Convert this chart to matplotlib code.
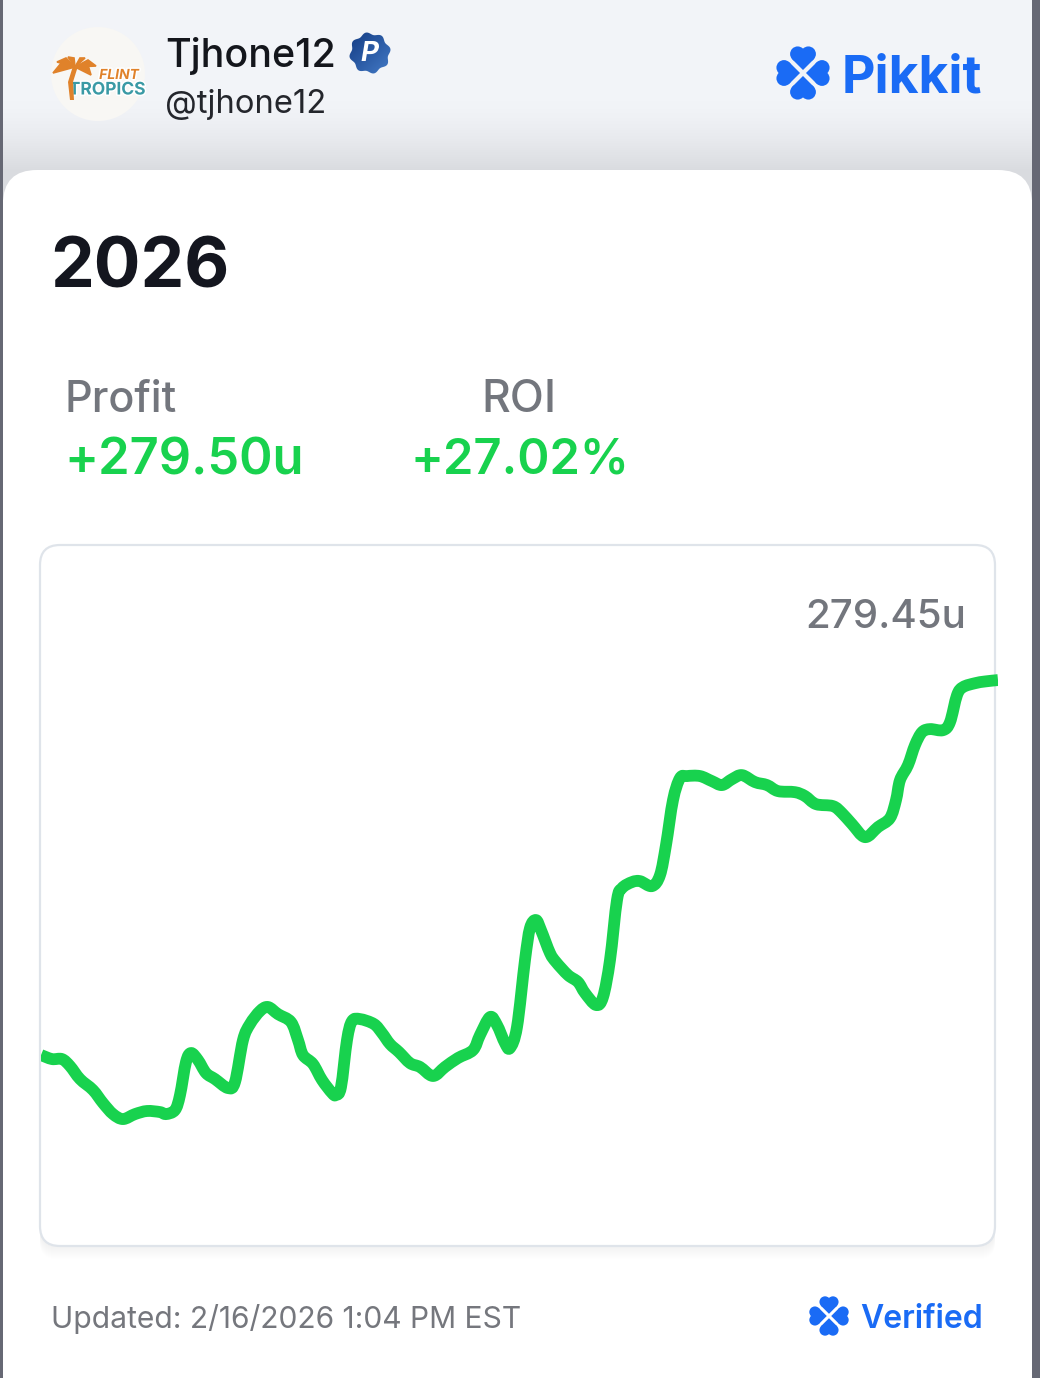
import numpy as np
import matplotlib
matplotlib.use('Agg')
import matplotlib.pyplot as plt
import matplotlib.patheffects as pe
from matplotlib.patches import FancyBboxPatch, PathPatch, Circle, Rectangle, Polygon
from matplotlib.path import Path

plt.rcParams['font.family'] = ['Inter', 'DejaVu Sans']

# running position along the 2026 season and profit in units
progress = [0, 11, 21, 29, 39, 52, 62, 72, 82, 94, 106, 119, 125, 134, 139, 145, 150, 157, 165, 174,
            187, 194, 202, 209, 219, 227, 237, 250, 257, 262, 272, 281, 291, 295, 300, 306, 311, 319,
            333, 341, 349, 358, 369, 379, 392, 404, 417, 432, 439, 449, 456, 464, 469, 476, 484, 489,
            495, 500, 509, 515, 527, 537, 544, 555, 562, 569, 576, 581, 591, 599, 611, 619, 625, 632,
            639, 646, 659, 671, 681, 691, 701, 714, 726, 737, 754, 764, 775, 792, 801, 811, 824, 837,
            849, 855, 859, 867, 874, 881, 889, 902, 909, 916, 922, 934, 944, 957]
profit = [0, -3.0, -3.0, -8.2, -17.9, -26.1, -35.8, -44.0, -47.7, -44.0, -41.7, -42.5, -44.0, -41.0,
          -29.8, -5.2, 1.5, -3.7, -13.4, -17.9, -24.6, -20.1, 11.2, 23.1, 32.8, 35.8, 30.5, 24.6, 11.2,
          0, -6.7, -18.6, -28.3, -29.8, -23.8, 11.2, 25.3, 26.8, 23.1, 16.4, 8.2, 2.2, -6.0, -8.9,
          -15.6, -8.9, -2.2, 3.7, 14.9, 28.3, 22.4, 8.9, 5.2, 20.9, 70.8, 94.6, 100.6, 93.1, 76.0,
          69.3, 59.6, 54.4, 46.2, 37.3, 43.2, 70.8, 115.5, 124.4, 128.9, 129.6, 125.9, 134.1, 156.5,
          190.0, 206.4, 207.9, 207.9, 204.1, 201.2, 205.6, 208.6, 203.4, 201.2, 196.7, 195.9, 193.0,
          187.0, 185.5, 180.3, 172.1, 162.4, 169.9, 176.6, 190.0, 204.9, 216.1, 231.0, 240.6, 242.9,
          242.1, 248.1, 268.2, 274.2, 277.1, 278.4, 279.45]

W, H = 1040, 1378
BLUE = '#1a6bf5'
GREEN = '#18d24e'
GREY = '#73767d'
ORANGE = '#e0822a'
TEAL = '#3a9aa5'


def clover(ax, cx, cy, size, color=BLUE, zorder=6):
    # four hearts, each a square corner plus two round lobes, tips towards the middle
    s = size * 0.56
    g = size * 0.11
    d = s / np.sqrt(2)
    for ang in [0, 90, 180, 270]:
        a = np.radians(ang)
        rot = np.array([[np.cos(a), -np.sin(a)], [np.sin(a), np.cos(a)]])
        square = np.array([[0, -g], [-d, -g - d], [0, -g - 2 * d], [d, -g - d]])
        ax.add_patch(Polygon(square @ rot.T + [cx, cy], fc=color, ec='none', zorder=zorder))
        for side in [-1, 1]:
            c = rot @ np.array([side * d / 2, -g - 1.5 * d]) + [cx, cy]
            ax.add_patch(Circle(c, s / 2, fc=color, ec='none', zorder=zorder))


def smooth_path(x, y):
    # bezier segments that pass through every reading
    x = np.asarray(x, float)
    y = np.asarray(y, float)
    verts = [(x[0], y[0])]
    codes = [Path.MOVETO]
    for i in range(len(x) - 1):
        i0 = max(i - 1, 0)
        i3 = min(i + 2, len(x) - 1)
        verts.append((x[i] + (x[i + 1] - x[i0]) / 6, y[i] + (y[i + 1] - y[i0]) / 6))
        verts.append((x[i + 1] - (x[i3] - x[i]) / 6, y[i + 1] - (y[i3] - y[i]) / 6))
        verts.append((x[i + 1], y[i + 1]))
        codes += [Path.CURVE4] * 3
    return Path(verts, codes)


fig = plt.figure(figsize=(W / 100, H / 100), dpi=100)
bg = fig.add_axes([0, 0, 1, 1])
bg.axis('off')

# page, header gradient and side strips
grad = np.ones((200, 1, 3))
top = np.array([0xf2, 0xf4, 0xf8]) / 255
low = np.array([0xd9, 0xdb, 0xdf]) / 255
for i in range(200):
    f = np.clip((i - 100) / 70, 0, 1) ** 1.5
    grad[i, 0] = top * (1 - f) + low * f
bg.imshow(grad, extent=[0, W, 200, 0], aspect='auto', zorder=0)

# badge gradient, clipped to the scalloped shape
tb = np.linspace(0, 2 * np.pi, 160)
rb = 19.5 + 1.3 * np.cos(8 * tb + np.pi / 2)
badge = Polygon(np.c_[370 + rb * np.cos(tb), 53 + rb * np.sin(tb)], fc='none', ec='none', zorder=4)
bg.add_patch(badge)
yy, xx = np.mgrid[0:1:40j, 0:1:40j]
shade = (xx * 0.5 + yy * 0.5)[..., None]
col = np.array([0x12, 0x3a, 0x82]) / 255 * (1 - shade) + np.array([0x45, 0x7c, 0xc8]) / 255 * shade
im = bg.imshow(col, extent=[348, 392, 75, 31], aspect='auto', zorder=4)
im.set_clip_path(badge)

bg.set_xlim(0, W)
bg.set_ylim(H, 0)
bg.add_patch(Rectangle((0, 0), 3, H, fc='#666874', ec='none', zorder=3))
bg.add_patch(Rectangle((1032, 0), 8, H, fc='#666874', ec='none', zorder=3))

# main white card
bg.add_patch(FancyBboxPatch((3 + 34, 170 + 34), 1029 - 68, 1300, boxstyle='round,pad=34,rounding_size=34',
                            fc='white', ec='none', zorder=1))

# avatar with logo
outline = [pe.withStroke(linewidth=2.2, foreground='white')]
bg.add_patch(Circle((98, 74), 47, fc='#f8f7f4', ec='none', zorder=2))
bg.text(119, 75, 'FLINT', color=ORANGE, fontsize=10, fontweight='bold', style='italic',
        ha='center', va='center', zorder=4, path_effects=outline)
bg.text(107, 90, 'TROPICS', color=TEAL, fontsize=12.5, fontweight='bold', ha='center', va='center',
        zorder=4, path_effects=outline)
bg.add_patch(Polygon([[73, 66], [78, 66], [73, 82], [74, 100], [70, 100], [68, 82]], fc=ORANGE, ec='none', zorder=4))
for tip, bend in [((53, 73), (62, 62)), ((57, 62), (66, 58)), ((68, 57), (74, 58)),
                  ((85, 58), (80, 58)), ((96, 66), (88, 60)), ((91, 75), (88, 65))]:
    bg.add_patch(Polygon([[75, 67], bend, tip], fc=ORANGE, ec=ORANGE, lw=1.2, zorder=4))

# name, badge
bg.text(165, 56, 'Tjhone12', color='#14161c', fontsize=28.4, fontweight='medium', va='center', zorder=4)
bg.text(165, 104, '@tjhone12', color='#24262c', fontsize=23.6, va='center', zorder=4)
bg.text(369, 54, 'P', color='white', fontsize=20, fontweight='bold', style='italic', ha='center', va='center', zorder=5)

# brand
clover(bg, 803, 73, 27)
bg.text(842, 79, 'Pikkit', color=BLUE, fontsize=37.2, fontweight='bold', va='center', zorder=4)

# headline numbers
bg.text(50, 269, '2026', color='#14161f', fontsize=50, fontweight='bold', va='center', zorder=4)
bg.text(64, 400, 'Profit', color=GREY, fontsize=31, fontweight='medium', va='center', zorder=4)
bg.text(64, 461, '+279.50u', color=GREEN, fontsize=36.5, fontweight='semibold', va='center', zorder=4)
bg.text(519, 400, 'ROI', color=GREY, fontsize=32, fontweight='medium', ha='center', va='center', zorder=4)
bg.text(520, 460, '+27.02%', color=GREEN, fontsize=35.2, fontweight='semibold', ha='center', va='center', zorder=4)

# chart frame with soft shadow
for k in range(14):
    bg.add_patch(FancyBboxPatch((40 + 18, 546 + 18 + k), 955 - 36, 700 - 36, boxstyle='round,pad=18,rounding_size=18',
                                fc=(0.88, 0.90, 0.94, 0.025), ec='none', zorder=2))
bg.add_patch(FancyBboxPatch((40 + 20, 545 + 20), 955 - 40, 701 - 40, boxstyle='round,pad=20,rounding_size=20',
                            fc='white', ec='#dfe4ea', lw=1.6, zorder=2))

# footer
bg.text(51, 1319, 'Updated: 2/16/2026 1:04 PM EST', color='#75777d', fontsize=21.6, va='center', zorder=4)
clover(bg, 829, 1316, 20)
bg.text(983, 1319, 'Verified', color=BLUE, fontsize=23, fontweight='semibold', ha='right', va='center', zorder=4)

# profit curve
ax = fig.add_axes([41 / W, 1 - 1246 / H, 957 / W, 701 / H])
ax.patch.set_alpha(0)
ax.add_patch(PathPatch(smooth_path(progress, profit), fc='none', ec=GREEN, lw=8.5, joinstyle='round', capstyle='butt'))
ax.set_xlim(0, 957)
ax.set_ylim(-142.3, 380.1)
ax.axis('off')
ax.text(925, 326, '279.45u', color=GREY, fontsize=29, fontweight='medium', ha='right', va='center')

fig.savefig('out.png', dpi=100)
